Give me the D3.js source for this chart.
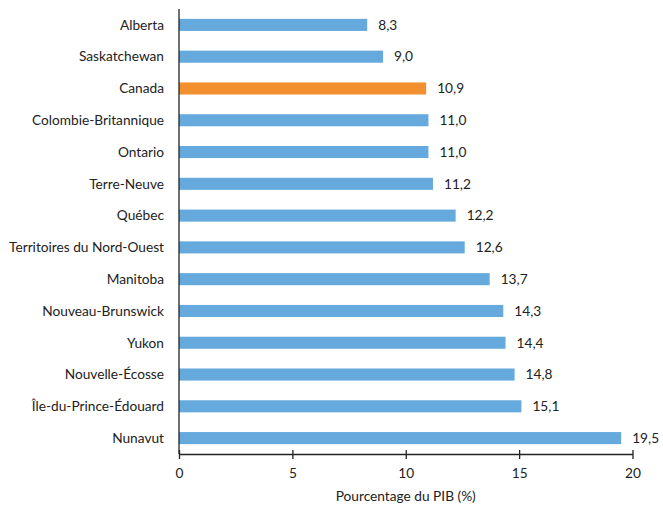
<!DOCTYPE html>
<html><head><meta charset="utf-8">
<script src="https://cdn.jsdelivr.net/npm/d3@7"></script>
<style>body{margin:0;background:#fff}svg{display:block}text{font-family:Lato,"Open Sans",sans-serif;fill:#222}</style>
</head><body><svg id="c" width="663" height="507"></svg>
<script>
const categories = ["Alberta","Saskatchewan","Canada","Colombie-Britannique","Ontario","Terre-Neuve","Québec","Territoires du Nord-Ouest","Manitoba","Nouveau-Brunswick","Yukon","Nouvelle-Écosse","Île-du-Prince-Édouard","Nunavut"];
const values = [8.3,9.0,10.9,11.0,11.0,11.2,12.2,12.6,13.7,14.3,14.4,14.8,15.1,19.5];
const xTicks = [0,5,10,15,20];
const highlight = "Canada";
const axisTitle = "Pourcentage du PIB (%)";
const FS = 13.7;

const svg = d3.select("#c");
const x = d3.scaleLinear().domain([0,20]).range([179,632.5]);
const y = d3.scaleBand().domain(categories).range([9,454]).paddingInner(0.62).paddingOuter(0.31);
const fmt = v => v.toFixed(1).replace(".", ",");

svg.selectAll("rect.bar").data(categories).join("rect")
  .attr("x", x(0)).attr("y", d => y(d))
  .attr("width", (d,i) => x(values[i]) - x(0)).attr("height", y.bandwidth())
  .attr("fill", d => d === highlight ? "#f28f2e" : "#65a9dd");

svg.selectAll("text.val").data(categories).join("text")
  .attr("x", (d,i) => x(values[i]) + 11).attr("y", d => y(d) + y.bandwidth()/2)
  .attr("dy","0.35em").attr("font-size",FS).text((d,i) => fmt(values[i]));

svg.selectAll("text.cat").data(categories).join("text")
  .attr("x", 164).attr("y", d => y(d) + y.bandwidth()/2)
  .attr("dy","0.35em").attr("text-anchor","end").attr("font-size",FS).text(d => d);

// y axis line
svg.append("line").attr("x1",x(0)).attr("x2",x(0)).attr("y1",9).attr("y2",454).attr("stroke","#222").attr("stroke-width",1.3);

// x axis
const xa = svg.append("g").attr("transform","translate(0,454)")
  .call(d3.axisBottom(x).tickValues(xTicks).tickSize(5).tickSizeOuter(0).tickFormat(d => d));
xa.select(".domain").attr("stroke","#222").attr("stroke-width",1.3);
xa.selectAll(".tick line").attr("stroke","#222").attr("stroke-width",1.3).attr("y1",-4);
xa.selectAll(".tick text").attr("font-size",FS).attr("y",14).style("font-family","Lato,'Open Sans',sans-serif").attr("fill","#222");

svg.append("text").attr("x",(x(0)+x(20))/2).attr("y",501).attr("text-anchor","middle").attr("font-size",FS).text(axisTitle);
</script></body></html>
